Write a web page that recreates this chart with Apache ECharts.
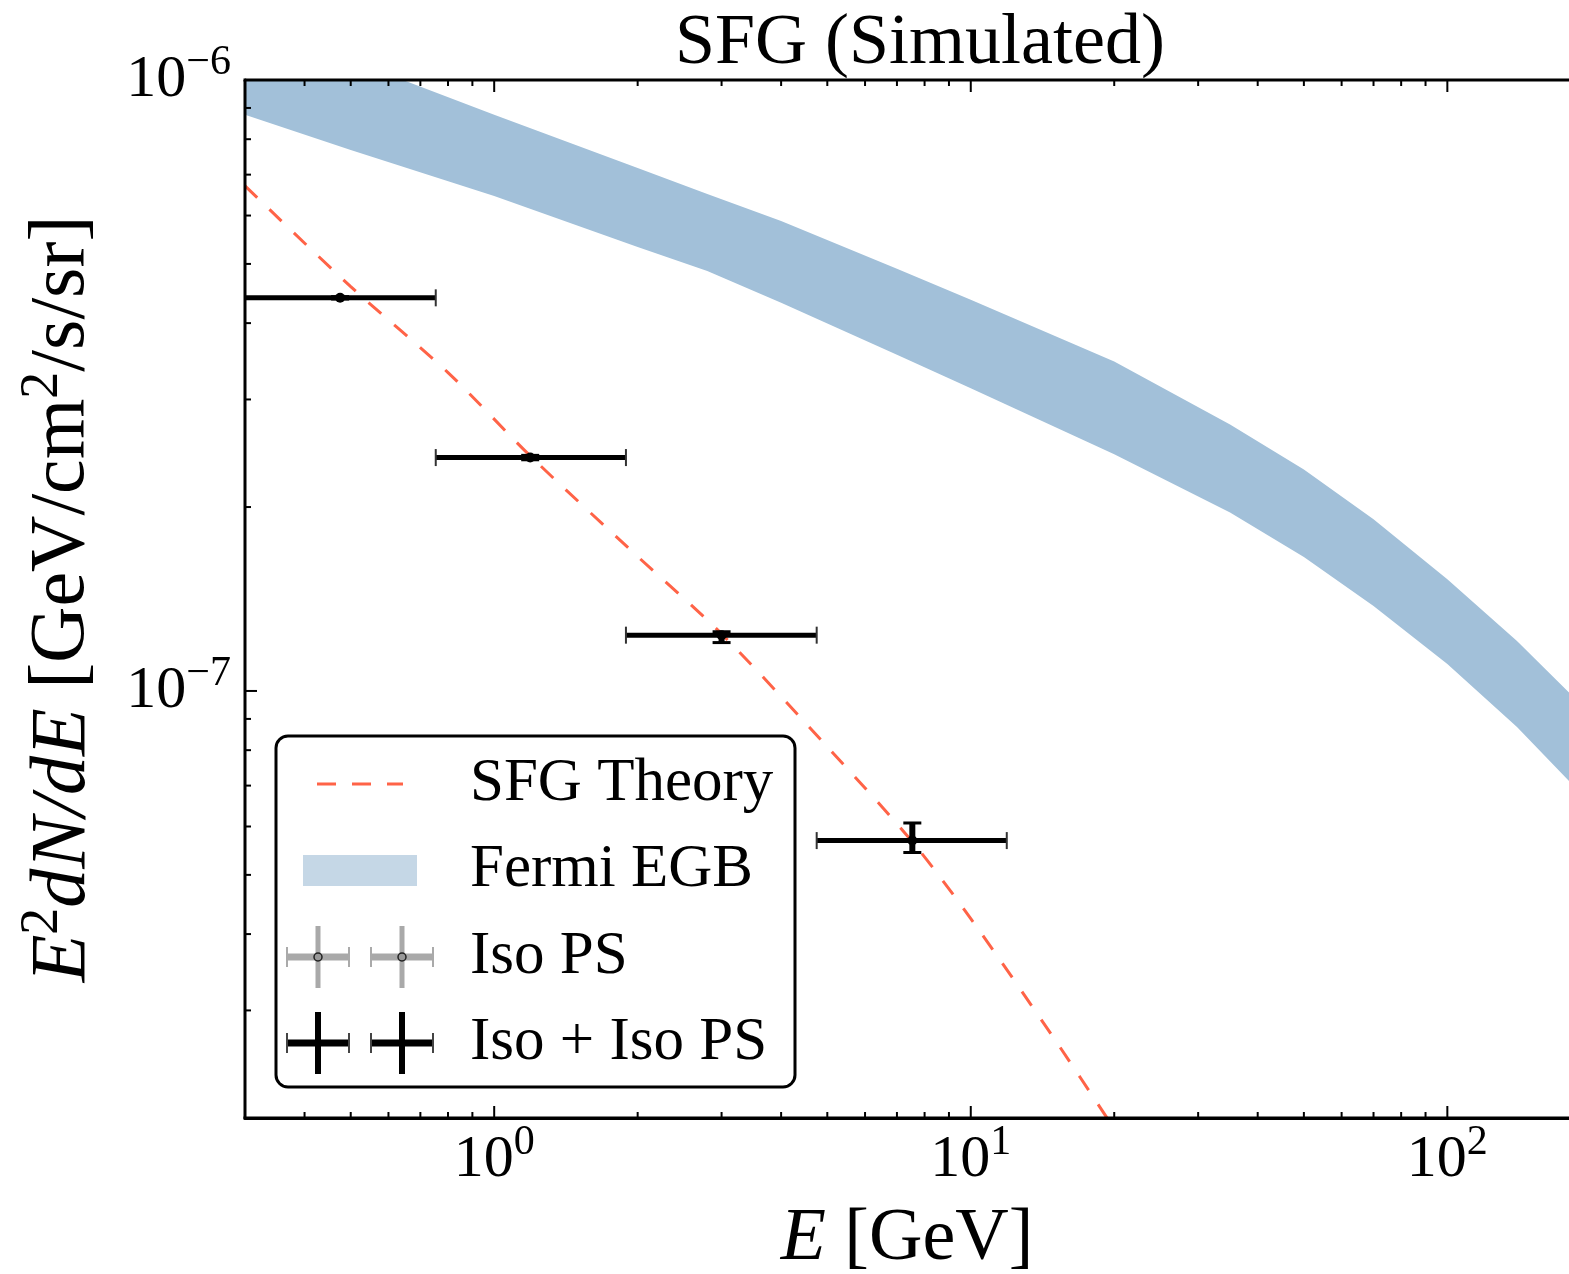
<!DOCTYPE html>
<html><head><meta charset="utf-8">
<script src="https://cdn.jsdelivr.net/npm/echarts@6/dist/echarts.min.js"></script>
<style>html,body{margin:0;padding:0;background:#fff}#c{width:1569px;height:1274px}</style>
</head><body><div id="c"></div>
<script>
const FONT = 'Liberation Serif';
const xMin = 0.3, xMax = 180, yMin = 2e-8, yMax = 1e-6;

// Fermi EGB band
const egbE     = [0.3, 0.5, 1, 2, 2.8, 4, 7, 10, 20, 35, 50, 70, 100, 140, 200];
const egbUpper = [1.25e-6, 1.078e-6, 8.77e-7, 7.18e-7, 6.51e-7, 5.88e-7, 4.91e-7, 4.37e-7, 3.46e-7, 2.73e-7, 2.305e-7, 1.910e-7, 1.524e-7, 1.207e-7, 9.17e-8];
const egbLower = [8.77e-7, 7.68e-7, 6.46e-7, 5.33e-7, 4.87e-7, 4.32e-7, 3.55e-7, 3.13e-7, 2.44e-7, 1.96e-7, 1.656e-7, 1.377e-7, 1.107e-7, 8.73e-8, 6.54e-8];

// SFG theory curve
const theoryE = [0.3, 0.5, 0.8, 1.2, 2, 3, 5, 7.5, 10, 15, 20];
const theoryY = [6.71e-7, 4.59e-7, 3.32e-7, 2.41e-7, 1.66e-7, 1.24e-7, 8.10e-8, 5.69e-8, 4.24e-8, 2.69e-8, 1.92e-8];

// Iso + Iso PS points
const binCenter = [0.475, 1.19, 3.0, 7.54];
const binLo     = [0.3, 0.754, 1.89, 4.75];
const binHi     = [0.754, 1.89, 4.75, 11.9];
const fluxVal   = [4.40e-7, 2.41e-7, 1.234e-7, 5.69e-8];
const fluxLo    = [4.38e-7, 2.39e-7, 1.20e-7, 5.44e-8];
const fluxHi    = [4.42e-7, 2.43e-7, 1.25e-7, 6.08e-8];

// ticks
const xMajor = [1, 10, 100];
const xMinor = [0.3,0.4,0.5,0.6,0.7,0.8,0.9,2,3,4,5,6,7,8,9,20,30,40,50,60,70,80,90];
const yMajor = [1e-7, 1e-6];
const yMinor = [2e-8,3e-8,4e-8,5e-8,6e-8,7e-8,8e-8,9e-8,2e-7,3e-7,4e-7,5e-7,6e-7,7e-7,8e-7,9e-7];

const legendLabels = ['SFG Theory', 'Fermi EGB', 'Iso PS', 'Iso + Iso PS'];

(function () {
const chart = echarts.init(document.getElementById('c'));

const lowerData = egbE.map((e, i) => [e, egbLower[i]]);
const upperData = egbE.map((e, i) => [e, egbUpper[i]]);
const theoryData = theoryE.map((e, i) => [e, theoryY[i]]);
const pointData = binCenter.map((e, i) => [e, fluxVal[i], binLo[i], binHi[i], fluxLo[i], fluxHi[i]]);

function powLabel(v) {
  const e = Math.log10(v), r = Math.round(e);
  if (Math.abs(e - r) > 1e-6) return '';
  return '{b|10}{s|' + (r < 0 ? '\u2212' + (-r) : r) + '}';
}
const labelRich = {
  b: {fontFamily: FONT, fontSize: 60, lineHeight: 60, color: '#000'},
  s: {fontFamily: FONT, fontSize: 42, lineHeight: 40, color: '#000', padding: [0, 0, 34, 0]}
};

const gridL = 245, gridT = 80, gridW = 1324, gridH = 1038;

chart.setOption({
  animation: false,
  backgroundColor: '#fff',
  title: {
    text: 'SFG (Simulated)', left: 915, textAlign: 'center', top: 3,
    textStyle: {fontFamily: FONT, fontSize: 72, fontWeight: 'normal', color: '#000'}
  },
  grid: {left: gridL, top: gridT, width: gridW, height: gridH, containLabel: false, outerBoundsMode: 'none'},
  xAxis: {
    type: 'log', logBase: 10, min: xMin, max: xMax,
    axisLine: {show: true, lineStyle: {color: '#000', width: 3}},
    axisTick: {show: false}, splitLine: {show: false}, minorTick: {show: false},
    axisLabel: {formatter: powLabel, rich: labelRich, margin: 12, showMinLabel: true, showMaxLabel: true},
    name: '{i|E}{r| [GeV]}', nameLocation: 'middle', nameGap: 84,
    nameTextStyle: {rich: {
      i: {fontFamily: FONT, fontStyle: 'italic', fontSize: 74, color: '#000'},
      r: {fontFamily: FONT, fontSize: 74, color: '#000'}
    }}
  },
  yAxis: {
    type: 'log', logBase: 10, min: yMin, max: yMax,
    axisLine: {show: true, lineStyle: {color: '#000', width: 3}},
    axisTick: {show: false}, splitLine: {show: false}, minorTick: {show: false},
    axisLabel: {formatter: powLabel, rich: labelRich, margin: 14},
    name: '{i|E}{s|2}{i|dN/dE}{r| [GeV/cm}{s|2}{r|/s/sr]}', nameLocation: 'middle', nameGap: 142,
    nameTextStyle: {rich: {
      i: {fontFamily: FONT, fontStyle: 'italic', fontSize: 78, lineHeight: 80, color: '#000'},
      r: {fontFamily: FONT, fontSize: 78, lineHeight: 80, color: '#000'},
      s: {fontFamily: FONT, fontSize: 54, lineHeight: 54, color: '#000', padding: [0, 0, 40, 0]}
    }}
  },
  series: [
    {
      name: 'Fermi EGB', type: 'line', data: upperData, symbol: 'none',
      lineStyle: {width: 0, opacity: 0}, areaStyle: {color: '#A2C0D9', opacity: 1, origin: 'start'}, silent: true, z: 1
    },
    {
      name: 'egbLower', type: 'line', data: lowerData, symbol: 'none',
      lineStyle: {width: 0, opacity: 0}, areaStyle: {color: '#FFFFFF', opacity: 1, origin: 'start'}, silent: true, z: 2
    },
    {
      name: 'SFG Theory', type: 'line', data: theoryData, symbol: 'none', smooth: 0.3,
      lineStyle: {color: '#FF6347', width: 3, type: [17, 17]}, z: 3
    },
    {
      name: 'Iso + Iso PS', type: 'custom', z: 4,
      encode: {x: [0, 2, 3], y: [1, 4, 5]},
      data: pointData,
      renderItem: function (params, api) {
        const c = api.coord([api.value(0), api.value(1)]);
        const l = api.coord([api.value(2), api.value(1)]);
        const r = api.coord([api.value(3), api.value(1)]);
        const t = api.coord([api.value(0), api.value(5)]);
        const b = api.coord([api.value(0), api.value(4)]);
        const ch = 8.5, cw = 9;
        return {type: 'group', children: [
          {type: 'line', shape: {x1: l[0], y1: c[1], x2: r[0], y2: c[1]}, style: {stroke: '#000', lineWidth: 5}},
          {type: 'line', shape: {x1: l[0], y1: c[1] - ch, x2: l[0], y2: c[1] + ch}, style: {stroke: '#333', lineWidth: 2}},
          {type: 'line', shape: {x1: r[0], y1: c[1] - ch, x2: r[0], y2: c[1] + ch}, style: {stroke: '#333', lineWidth: 2}},
          {type: 'line', shape: {x1: c[0], y1: t[1], x2: c[0], y2: b[1]}, style: {stroke: '#000', lineWidth: 6}},
          {type: 'line', shape: {x1: c[0] - cw, y1: t[1], x2: c[0] + cw, y2: t[1]}, style: {stroke: '#000', lineWidth: 3}},
          {type: 'line', shape: {x1: c[0] - cw, y1: b[1], x2: c[0] + cw, y2: b[1]}, style: {stroke: '#000', lineWidth: 3}},
          {type: 'circle', shape: {cx: c[0], cy: c[1], r: 5}, style: {fill: '#000'}}
        ]};
      }
    }
  ]
});

// spines and ticks, positioned via the axes' own scales
const gfx = [];
const px = v => chart.convertToPixel({xAxisIndex: 0}, v);
const py = v => chart.convertToPixel({yAxisIndex: 0}, v);
const yTopPx = py(yMax), yBotPx = py(yMin), xLeftPx = px(xMin);
const spine = {stroke: '#000', lineWidth: 3};
gfx.push({type: 'line', shape: {x1: xLeftPx - 1.5, y1: yTopPx, x2: 1600, y2: yTopPx}, style: spine, z: 50});
gfx.push({type: 'line', shape: {x1: xLeftPx - 1.5, y1: yBotPx, x2: 1600, y2: yBotPx}, style: spine, z: 50});
gfx.push({type: 'line', shape: {x1: xLeftPx, y1: yTopPx, x2: xLeftPx, y2: yBotPx}, style: spine, z: 50});
function vt(x, len) {
  gfx.push({type: 'line', shape: {x1: x, y1: yBotPx, x2: x, y2: yBotPx - len}, style: {stroke: '#000', lineWidth: 2}, z: 50});
  gfx.push({type: 'line', shape: {x1: x, y1: yTopPx, x2: x, y2: yTopPx + len}, style: {stroke: '#000', lineWidth: 2}, z: 50});
}
function ht(y, len) {
  gfx.push({type: 'line', shape: {x1: xLeftPx, y1: y, x2: xLeftPx + len, y2: y}, style: {stroke: '#000', lineWidth: 2}, z: 50});
}
xMajor.forEach(v => vt(px(v), 12));
xMinor.forEach(v => vt(px(v), 6));
yMajor.forEach(v => ht(py(v), 12));
yMinor.forEach(v => ht(py(v), 6));

// legend
const LX = 276, LY = 736;
gfx.push({type: 'rect', shape: {x: LX, y: LY, width: 519, height: 351, r: 12}, style: {fill: '#fff', stroke: '#000', lineWidth: 3}, z: 60});
const rowY = [784, 870, 957, 1043];
gfx.push({type: 'line', shape: {x1: 317, y1: rowY[0], x2: 403, y2: rowY[0]}, style: {stroke: '#FF6347', lineWidth: 3, lineDash: [19, 16]}, z: 61});
gfx.push({type: 'rect', shape: {x: 303, y: rowY[1] - 15, width: 114, height: 31}, style: {fill: '#C5D7E6'}, z: 61});
function errIcon(cx, cy, col, capCol, hw, vw, mark) {
  gfx.push({type: 'line', shape: {x1: cx, y1: cy - 31, x2: cx, y2: cy + 31}, style: {stroke: col, lineWidth: vw}, z: 61});
  gfx.push({type: 'line', shape: {x1: cx - 31, y1: cy, x2: cx + 31, y2: cy}, style: {stroke: col, lineWidth: hw}, z: 61});
  gfx.push({type: 'line', shape: {x1: cx - 31, y1: cy - 10, x2: cx - 31, y2: cy + 10}, style: {stroke: capCol, lineWidth: 2}, z: 61});
  gfx.push({type: 'line', shape: {x1: cx + 31, y1: cy - 10, x2: cx + 31, y2: cy + 10}, style: {stroke: capCol, lineWidth: 2}, z: 61});
  if (mark) gfx.push({type: 'circle', shape: {cx: cx, cy: cy, r: 4}, style: {fill: '#999', stroke: '#222', lineWidth: 1.5}, z: 62});
}
[318, 402].forEach(cx => errIcon(cx, rowY[2], '#A9A9A9', '#AAAAAA', 7, 5, true));
[318, 402].forEach(cx => errIcon(cx, rowY[3], '#000', '#444', 7, 6, false));
legendLabels.forEach((t, i) => {
  gfx.push({type: 'text', x: 470, y: rowY[i], style: {text: t, fontFamily: FONT, fontSize: 61, fill: '#000', textVerticalAlign: 'middle', verticalAlign: 'middle'}, z: 62});
});

chart.setOption({graphic: gfx});
})();
</script>
</body></html>
